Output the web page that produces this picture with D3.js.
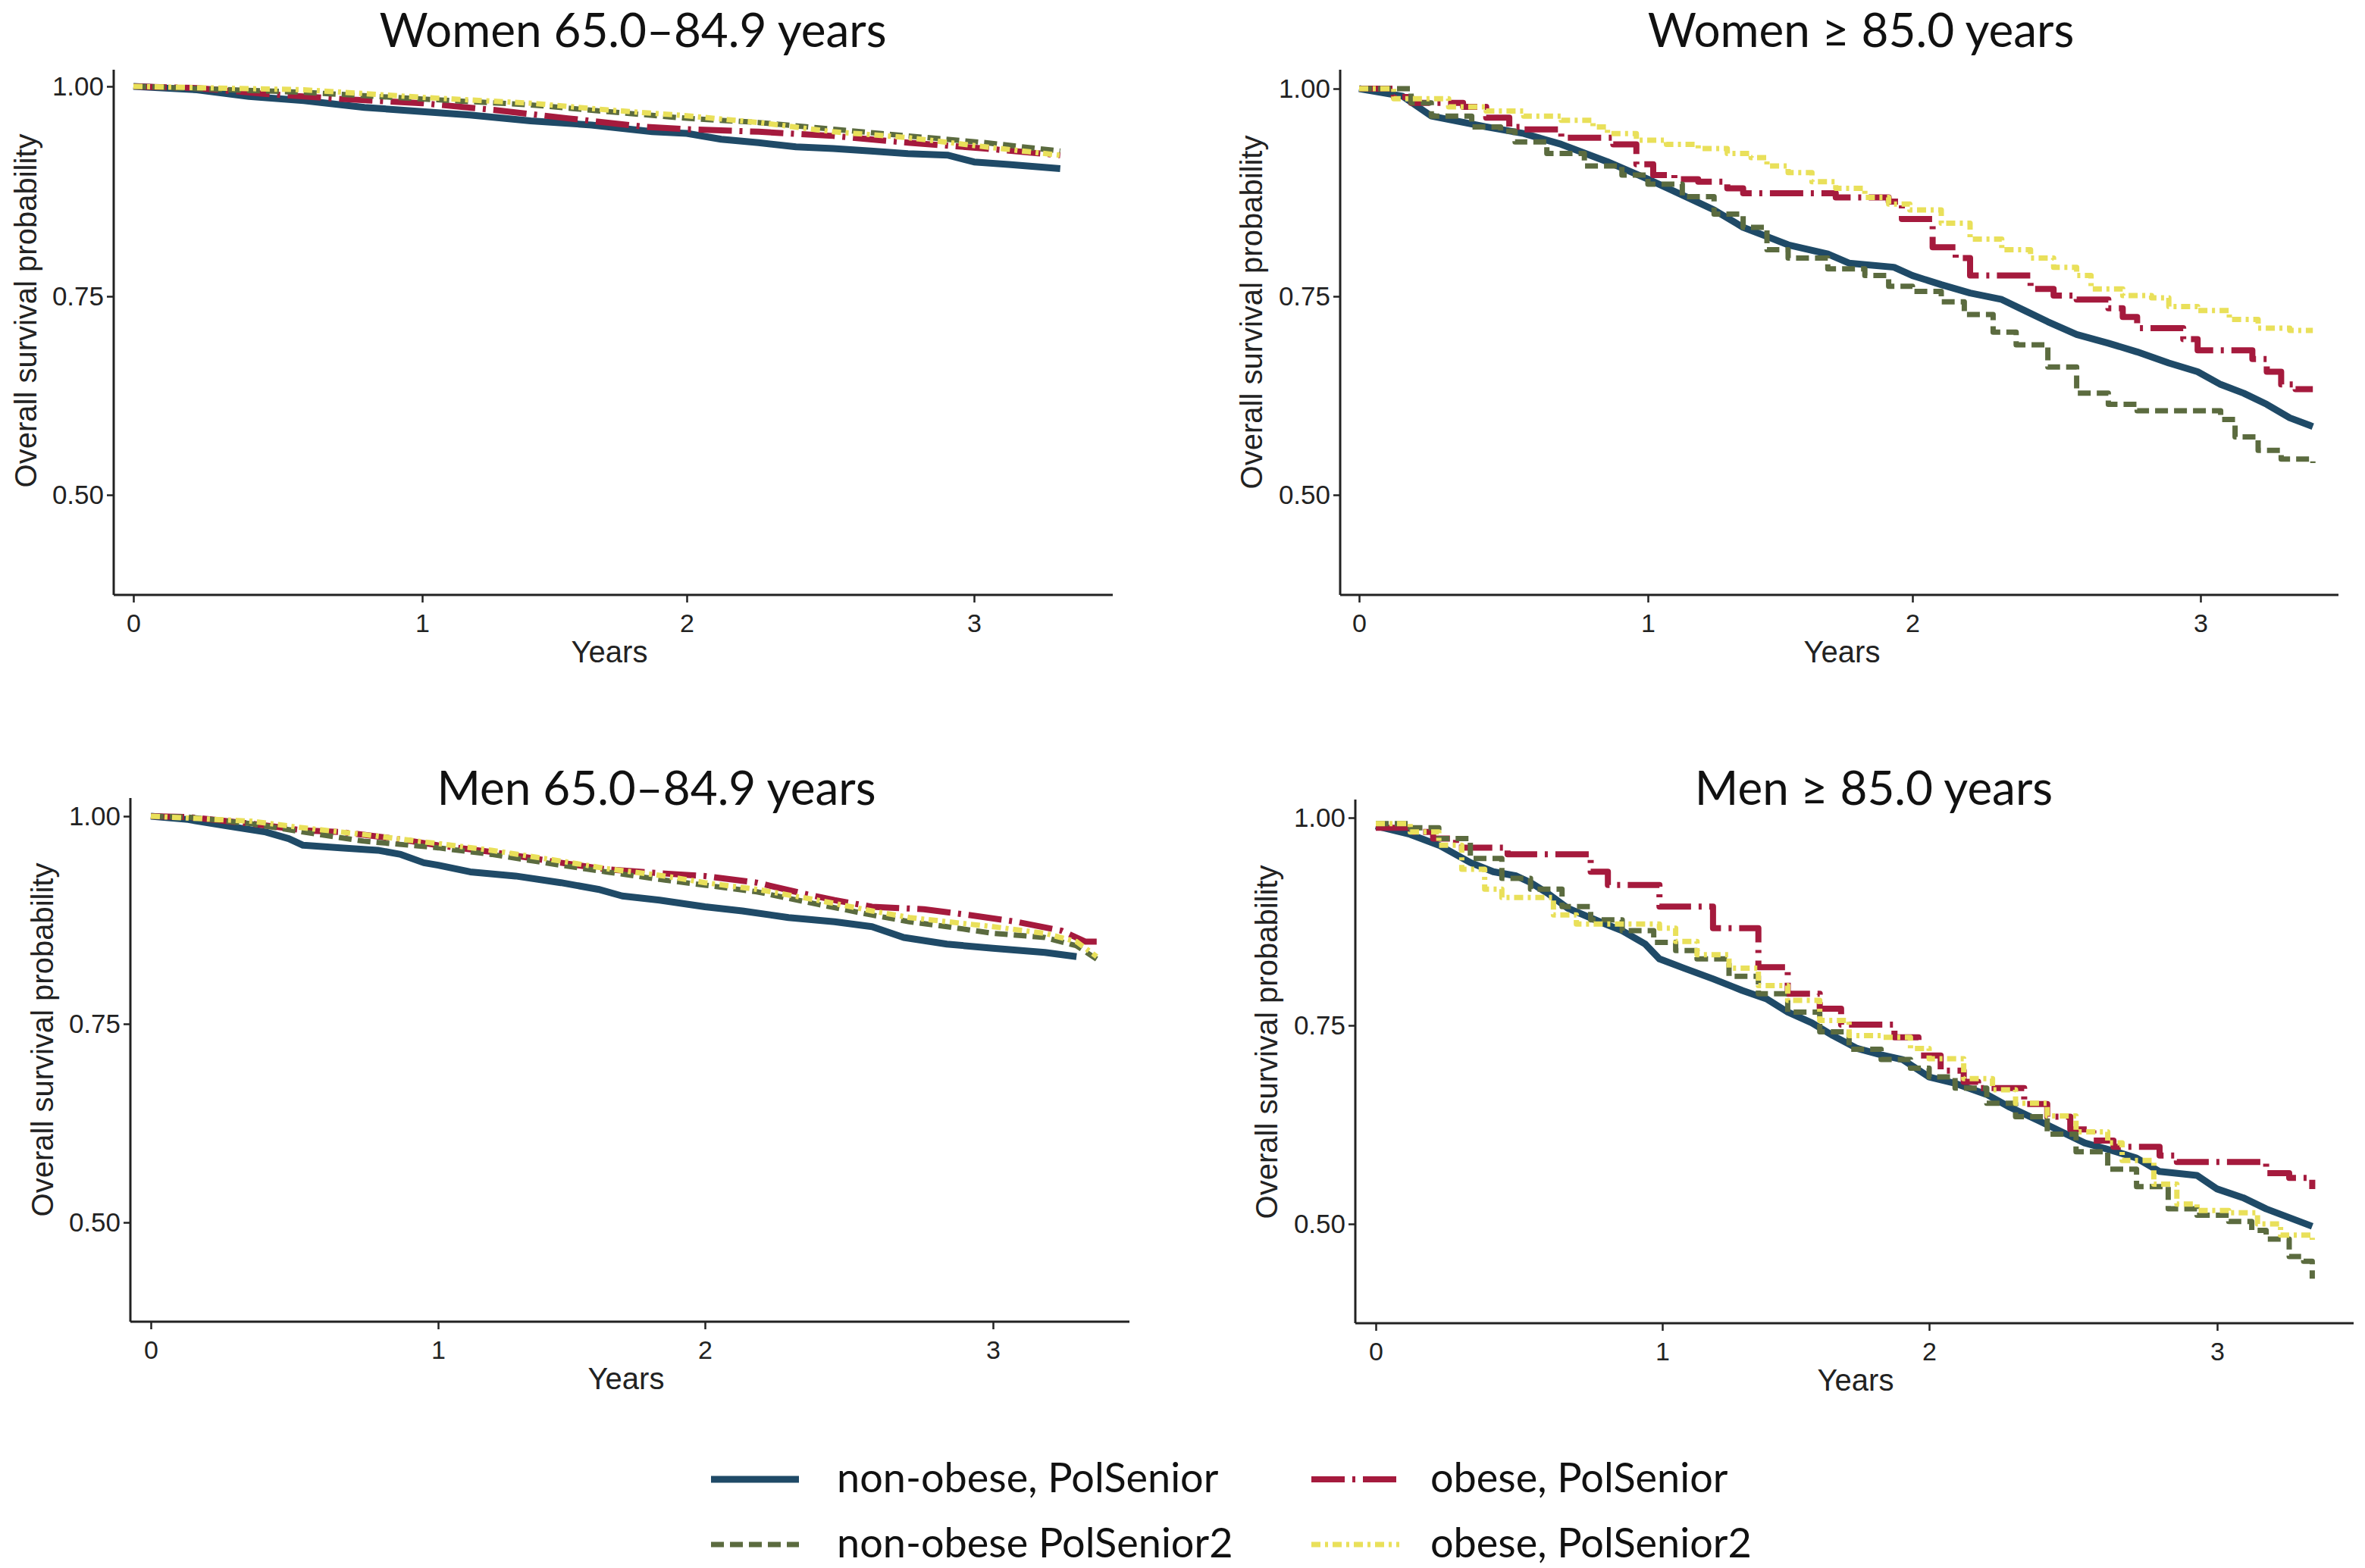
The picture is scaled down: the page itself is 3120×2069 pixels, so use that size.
<!DOCTYPE html>
<html>
<head>
<meta charset="utf-8">
<script src="https://cdn.jsdelivr.net/npm/d3@7"></script>
<style>
  body { margin: 0; background: #fff; }
  svg { display: block; }
</style>
</head>
<body>
<svg id="chart"></svg>
<script>
// series (legend order: row-wise, two columns)
const seriesNames = ["non-obese, PolSenior", "obese, PolSenior", "non-obese PolSenior2", "obese, PolSenior2"]
const panelTitles = ["Women 65.0–84.9 years", "Women ≥ 85.0 years", "Men 65.0–84.9 years", "Men ≥ 85.0 years"]
const xTicks = [0, 1, 2, 3]
const yTicks = [0.50, 0.75, 1.00]

// Kaplan-Meier curves, [years, survival]
const womenYoungNonObese1 = [[0,1],[0.22,0.996],[0.40,0.988],[0.59,0.983],[0.80,0.975],[1.0,0.970],[1.18,0.966],[1.41,0.959],[1.64,0.954],[1.87,0.946],[2.0,0.944],[2.12,0.937],[2.25,0.933],[2.38,0.928],[2.51,0.926],[2.64,0.923],[2.77,0.920],[2.91,0.918],[3.0,0.910],[3.12,0.907],[3.30,0.902]]
const womenYoungObese1 = [[0,1],[0.22,0.998],[0.46,0.991],[0.72,0.985],[1.0,0.980],[1.27,0.972],[1.55,0.962],[1.84,0.952],[2.0,0.949],[2.25,0.946],[2.51,0.941],[2.77,0.933],[3.04,0.926],[3.30,0.918]]
const womenYoungNonObese2 = [[0,1],[0.59,0.993],[1.0,0.985],[1.41,0.978],[1.70,0.970],[2.0,0.962],[2.25,0.957],[2.51,0.949],[2.77,0.941],[3.04,0.933],[3.30,0.923]]
const womenYoungObese2 = [[0,1],[0.59,0.996],[1.0,0.987],[1.41,0.980],[1.70,0.972],[2.0,0.965],[2.25,0.957],[2.51,0.946],[2.77,0.939],[3.04,0.928],[3.30,0.918]]

const womenOldNonObese1 = [[0,1],[0.15,0.991],[0.25,0.967],[0.44,0.954],[0.57,0.946],[0.70,0.933],[0.86,0.912],[1.0,0.891],[1.13,0.872],[1.25,0.854],[1.36,0.833],[1.45,0.822],[1.53,0.812],[1.68,0.801],[1.76,0.790],[1.93,0.785],[2.0,0.775],[2.10,0.764],[2.20,0.754],[2.31,0.746],[2.39,0.732],[2.47,0.718],[2.57,0.702],[2.68,0.691],[2.78,0.680],[2.89,0.666],[2.99,0.655],[3.07,0.639],[3.15,0.628],[3.23,0.614],[3.31,0.597],[3.39,0.586]]
const womenOldObese1 = [[0,1],[0.12,0.990],[0.18,0.983],[0.36,0.978],[0.44,0.965],[0.52,0.954],[0.57,0.951],[0.70,0.941],[0.88,0.933],[0.96,0.909],[1.02,0.896],[1.10,0.891],[1.19,0.888],[1.30,0.880],[1.36,0.874],[1.71,0.869],[1.91,0.864],[1.96,0.843],[2.07,0.809],[2.15,0.796],[2.20,0.775],[2.41,0.759],[2.49,0.751],[2.57,0.746],[2.68,0.735],[2.73,0.724],[2.78,0.710],[2.94,0.696],[2.99,0.682],[3.18,0.671],[3.23,0.655],[3.28,0.639],[3.33,0.633],[3.39,0.633]]
const womenOldNonObese2 = [[0,1],[0.18,0.983],[0.25,0.967],[0.39,0.954],[0.49,0.949],[0.54,0.936],[0.65,0.922],[0.78,0.907],[0.91,0.896],[1.0,0.885],[1.13,0.870],[1.25,0.849],[1.36,0.833],[1.45,0.806],[1.53,0.796],[1.68,0.783],[1.82,0.775],[1.91,0.762],[2.0,0.756],[2.10,0.743],[2.18,0.727],[2.28,0.705],[2.36,0.689],[2.47,0.661],[2.57,0.628],[2.68,0.614],[2.78,0.606],[3.07,0.595],[3.12,0.573],[3.20,0.556],[3.28,0.545],[3.39,0.540]]
const womenOldObese2 = [[0,1],[0.12,0.988],[0.31,0.978],[0.44,0.973],[0.57,0.967],[0.70,0.962],[0.81,0.954],[0.86,0.946],[0.96,0.938],[1.07,0.933],[1.19,0.928],[1.30,0.922],[1.39,0.917],[1.45,0.907],[1.53,0.899],[1.62,0.888],[1.71,0.880],[1.82,0.869],[1.91,0.861],[1.99,0.854],[2.10,0.838],[2.20,0.819],[2.31,0.806],[2.41,0.796],[2.49,0.785],[2.57,0.775],[2.62,0.759],[2.73,0.751],[2.83,0.748],[2.89,0.737],[2.99,0.732],[3.10,0.721],[3.20,0.710],[3.31,0.707],[3.39,0.707]]

const menYoungNonObese1 = [[0,1],[0.13,0.996],[0.27,0.988],[0.40,0.981],[0.48,0.973],[0.53,0.965],[0.66,0.962],[0.79,0.959],[0.87,0.954],[0.95,0.944],[1.0,0.941],[1.12,0.933],[1.29,0.928],[1.46,0.920],[1.60,0.912],[1.69,0.904],[1.83,0.899],[2.0,0.891],[2.13,0.886],[2.29,0.878],[2.45,0.873],[2.58,0.867],[2.69,0.854],[2.84,0.846],[3.0,0.841],[3.18,0.836],[3.29,0.831]]
const menYoungObese1 = [[0,1],[0.13,0.999],[0.35,0.991],[0.53,0.983],[0.66,0.981],[0.85,0.973],[1.0,0.965],[1.20,0.957],[1.46,0.944],[1.63,0.936],[1.85,0.931],[2.0,0.928],[2.18,0.920],[2.34,0.907],[2.45,0.899],[2.58,0.891],[2.76,0.888],[2.92,0.881],[3.08,0.873],[3.24,0.862],[3.32,0.849],[3.36,0.849]]
const menYoungNonObese2 = [[0,1],[0.13,0.999],[0.35,0.991],[0.53,0.981],[0.74,0.970],[1.0,0.962],[1.20,0.954],[1.46,0.941],[1.63,0.933],[1.85,0.923],[2.0,0.917],[2.18,0.909],[2.39,0.894],[2.58,0.881],[2.71,0.873],[2.84,0.867],[3.0,0.859],[3.18,0.854],[3.29,0.844],[3.36,0.828]]
const menYoungObese2 = [[0,1],[0.35,0.994],[0.53,0.986],[0.74,0.978],[1.0,0.967],[1.20,0.959],[1.46,0.946],[1.63,0.937],[1.85,0.928],[2.0,0.920],[2.18,0.912],[2.39,0.899],[2.58,0.886],[2.71,0.878],[2.84,0.873],[3.0,0.867],[3.18,0.859],[3.29,0.849],[3.36,0.831]]

const menOldNonObese1 = [[0,0.990],[0.12,0.980],[0.22,0.967],[0.33,0.946],[0.41,0.935],[0.49,0.930],[0.54,0.922],[0.60,0.909],[0.67,0.891],[0.78,0.875],[0.86,0.864],[0.94,0.848],[0.99,0.830],[1.08,0.819],[1.19,0.806],[1.30,0.792],[1.39,0.782],[1.47,0.766],[1.56,0.753],[1.64,0.737],[1.73,0.721],[1.82,0.713],[1.90,0.707],[2.0,0.685],[2.09,0.677],[2.20,0.663],[2.28,0.647],[2.38,0.630],[2.46,0.616],[2.54,0.602],[2.62,0.594],[2.72,0.583],[2.80,0.566],[2.93,0.561],[3.0,0.544],[3.09,0.533],[3.17,0.519],[3.25,0.508],[3.33,0.497]]
const menOldObese1 = [[0,0.988],[0.12,0.983],[0.20,0.975],[0.28,0.964],[0.46,0.956],[0.75,0.935],[0.81,0.919],[0.99,0.893],[1.19,0.867],[1.36,0.820],[1.47,0.788],[1.59,0.770],[1.67,0.751],[1.87,0.735],[1.96,0.712],[2.04,0.693],[2.12,0.679],[2.17,0.671],[2.33,0.651],[2.41,0.635],[2.49,0.619],[2.57,0.605],[2.64,0.597],[2.80,0.586],[2.86,0.578],[3.17,0.564],[3.25,0.558],[3.33,0.544]]
const menOldNonObese2 = [[0,0.993],[0.12,0.988],[0.22,0.975],[0.33,0.951],[0.44,0.927],[0.54,0.914],[0.65,0.893],[0.75,0.877],[0.86,0.864],[0.97,0.850],[1.05,0.840],[1.13,0.830],[1.25,0.809],[1.36,0.788],[1.47,0.766],[1.59,0.742],[1.70,0.720],[1.82,0.707],[1.93,0.696],[2.0,0.685],[2.09,0.671],[2.20,0.652],[2.30,0.635],[2.41,0.613],[2.51,0.591],[2.62,0.569],[2.72,0.547],[2.83,0.519],[2.93,0.511],[3.04,0.503],[3.12,0.492],[3.17,0.481],[3.25,0.459],[3.30,0.453],[3.33,0.431]]
const menOldObese2 = [[0,0.993],[0.12,0.983],[0.22,0.967],[0.30,0.938],[0.38,0.914],[0.44,0.904],[0.62,0.883],[0.70,0.872],[0.99,0.867],[1.05,0.851],[1.13,0.835],[1.25,0.819],[1.36,0.798],[1.47,0.780],[1.59,0.756],[1.70,0.737],[1.82,0.735],[1.93,0.721],[2.0,0.708],[2.12,0.683],[2.22,0.669],[2.30,0.652],[2.41,0.636],[2.51,0.616],[2.62,0.602],[2.67,0.580],[2.78,0.550],[2.86,0.525],[2.93,0.517],[3.04,0.514],[3.14,0.500],[3.22,0.486],[3.33,0.480]]

const panelSeries = [
  [womenYoungNonObese1, womenYoungObese1, womenYoungNonObese2, womenYoungObese2],
  [womenOldNonObese1, womenOldObese1, womenOldNonObese2, womenOldObese2],
  [menYoungNonObese1, menYoungObese1, menYoungNonObese2, menYoungObese2],
  [menOldNonObese1, menOldObese1, menOldNonObese2, menOldObese2],
]

const W = 3120, H = 2069
const styles = [
  { color: "#1f4a67", width: 9, dash: null },
  { color: "#a51a3d", width: 8, dash: "44 10 4 10" },
  { color: "#5b6b3f", width: 7, dash: "17 8" },
  { color: "#e9e05a", width: 7, dash: "12 6 4 6" },
]

// panel frames (the source image is slightly uneven, so scales are piecewise)
// fineSteps: the younger groups have so many events that the steps blur into a slope
const frames = [
  { axisX: 150, top: 92, bottom: 785, right: 1468, xr: [176, 557, 906, 1285], yr: [653, 391, 114], titleX: 835, yearsX: 804, ytX: 34, ytY: 410, fineSteps: true },
  { axisX: 1768, top: 92, bottom: 785, right: 3085, xr: [1793, 2174, 2523, 2903], yr: [653, 391, 117], titleX: 2455, yearsX: 2430, ytX: 1651, ytY: 412, fineSteps: false },
  { axisX: 172, top: 1053, bottom: 1744, right: 1490, xr: [199, 578, 930, 1310], yr: [1613, 1351, 1077], titleX: 866, yearsX: 826, ytX: 56, ytY: 1372, fineSteps: true },
  { axisX: 1788, top: 1055, bottom: 1746, right: 3105, xr: [1815, 2193, 2545, 2925], yr: [1615, 1353, 1079], titleX: 2472, yearsX: 2448, ytX: 1671, ytY: 1375, fineSteps: false },
]
const titleY = [62, 62, 1062, 1062]

const svg = d3.select("#chart").attr("width", W).attr("height", H)

const drawPanel = (f, i) => {
  const x = d3.scaleLinear().domain(xTicks).range(f.xr)
  const y = d3.scaleLinear().domain(yTicks).range(f.yr)
  const g = svg.append("g").attr("class", "panel")

  g.append("text")
    .attr("x", f.titleX).attr("y", titleY[i])
    .attr("text-anchor", "middle")
    .style("font-family", "Lato, 'Open Sans', sans-serif")
    .style("font-size", "62px")
    .attr("fill", "#111")
    .text(panelTitles[i])

  // axes
  g.append("g")
    .attr("transform", `translate(${f.axisX},0)`)
    .call(d3.axisLeft(y).tickValues(yTicks).tickFormat(d3.format(".2f")).tickSize(9).tickPadding(4))
    .call(a => a.select(".domain").remove())
    .call(a => a.selectAll("line").attr("stroke", "#222").attr("stroke-width", 2.5))
    .call(a => a.selectAll("text").attr("fill", "#222")
      .style("font-family", "'Liberation Sans', Arial, sans-serif").style("font-size", "35px"))

  g.append("g")
    .attr("transform", `translate(0,${f.bottom})`)
    .call(d3.axisBottom(x).tickValues(xTicks).tickFormat(d3.format("d")).tickSize(10).tickPadding(15))
    .call(a => a.select(".domain").remove())
    .call(a => a.selectAll("line").attr("stroke", "#222").attr("stroke-width", 2.5))
    .call(a => a.selectAll("text").attr("fill", "#222")
      .style("font-family", "'Liberation Sans', Arial, sans-serif").style("font-size", "34px"))

  g.append("line")
    .attr("x1", f.axisX).attr("x2", f.axisX).attr("y1", f.top).attr("y2", f.bottom)
    .attr("stroke", "#222").attr("stroke-width", 3)
  g.append("line")
    .attr("x1", f.axisX).attr("x2", f.right).attr("y1", f.bottom).attr("y2", f.bottom)
    .attr("stroke", "#222").attr("stroke-width", 3)

  g.append("text")
    .attr("x", f.yearsX).attr("y", f.bottom + 89)
    .attr("text-anchor", "middle")
    .style("font-family", "'Liberation Sans', Arial, sans-serif").style("font-size", "40px")
    .attr("fill", "#222")
    .text("Years")

  g.append("text")
    .attr("transform", `translate(${f.ytX + 14},${f.ytY}) rotate(-90)`)
    .attr("text-anchor", "middle")
    .style("font-family", "'Liberation Sans', Arial, sans-serif").style("font-size", "40px")
    .attr("fill", "#222")
    .text("Overall survival probability")

  const stepLine = d3.line().x(d => x(d[0])).y(d => y(d[1])).curve(d3.curveStepAfter)
  const slopeLine = d3.line().x(d => x(d[0])).y(d => y(d[1])).curve(d3.curveLinear)

  g.append("g").attr("class", "curves")
    .selectAll("path")
    .data(panelSeries[i])
    .join("path")
      .attr("d", (d, k) => (f.fineSteps || k === 0) ? slopeLine(d) : stepLine(d))
      .attr("fill", "none")
      .attr("stroke", (d, k) => styles[k].color)
      .attr("stroke-width", (d, k) => styles[k].width)
      .attr("stroke-dasharray", (d, k) => styles[k].dash)
      .attr("stroke-linejoin", "round")
}

frames.forEach(drawPanel)

// legend, two columns
const legendPos = [
  { x: 938, y: 1952 }, { x: 1730, y: 1952 },
  { x: 938, y: 2038 }, { x: 1730, y: 2038 },
]
const legend = svg.append("g").attr("class", "legend")
  .selectAll("g")
  .data(seriesNames)
  .join("g")
    .attr("transform", (d, k) => `translate(${legendPos[k].x},${legendPos[k].y})`)

legend.append("line")
  .attr("x1", 0).attr("x2", 116).attr("y1", 0).attr("y2", 0)
  .attr("stroke", (d, k) => styles[k].color)
  .attr("stroke-width", (d, k) => styles[k].width)
  .attr("stroke-dasharray", (d, k) => styles[k].dash)

legend.append("text")
  .attr("x", (d, k) => k % 2 === 0 ? 166 : 157)
  .attr("y", 17)
  .style("font-family", "Lato, 'Open Sans', sans-serif")
  .style("font-size", "54px")
  .attr("fill", "#111")
  .text(d => d)
</script>
</body>
</html>
